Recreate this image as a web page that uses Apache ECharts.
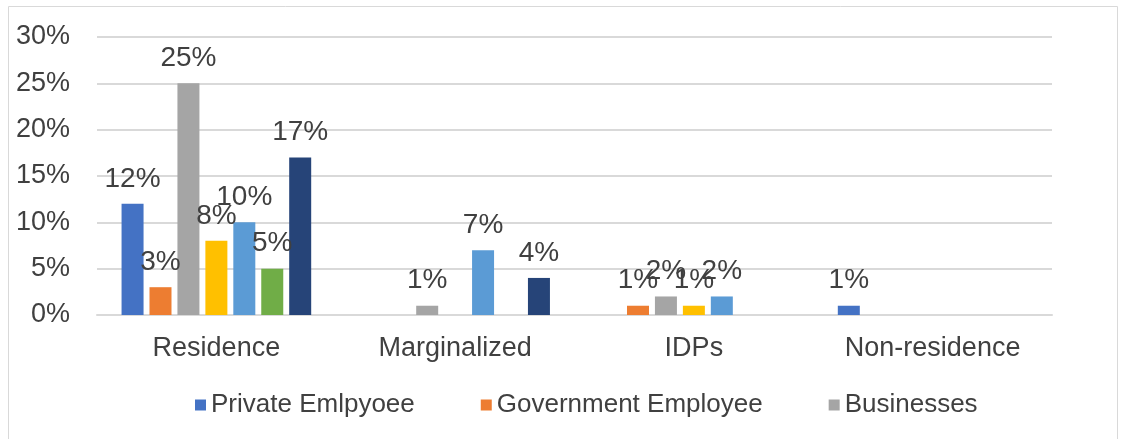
<!DOCTYPE html>
<html>
<head>
<meta charset="utf-8">
<script src="https://cdn.jsdelivr.net/npm/echarts@6/dist/echarts.min.js"></script>
<style>
  html, body { margin: 0; padding: 0; background: #fff; }
  #chart { width: 1125px; height: 439px; }
</style>
</head>
<body>
<div id="chart"></div>
<script>
// categories and series (percent values, null = no bar)
var categories = ['Residence', 'Marginalized', 'IDPs', 'Non-residence'];
var seriesNames = ['Private Emlpyoee', 'Government Employee', 'Businesses', 'Series 4', 'Series 5', 'Series 6', 'Series 7'];
var legendNames = ['Private Emlpyoee', 'Government Employee', 'Businesses'];
var privateEmp = [12, null, null, 1];
var governmentEmp = [3, null, 1, null];
var businesses = [25, 1, 2, null];
var series4 = [8, null, 1, null];
var series5 = [10, 7, 2, null];
var series6 = [5, null, null, null];
var series7 = [17, 4, null, null];
var yTicks = [0, 5, 10, 15, 20, 25, 30];

var colors = ['#4472C4', '#ED7D31', '#A5A5A5', '#FFC000', '#5B9BD5', '#70AD47', '#264478'];
var allData = [privateEmp, governmentEmp, businesses, series4, series5, series6, series7];

var textColor = '#404040';
var fontFam = '"Liberation Sans", Arial, sans-serif';

function buildSeries() {
    var out = [];
    for (var i = 0; i < allData.length; i++) {
        out.push({
            name: seriesNames[i],
            type: 'bar',
            data: allData[i],
            barWidth: 22,
            barGap: '27%',
            itemStyle: { color: colors[i] },
            label: {
                show: true,
                position: 'top',
                distance: 11,
                formatter: '{c}%',
                color: textColor,
                fontSize: 28,
                fontFamily: fontFam
            }
        });
    }
    return out;
}

var myChart = echarts.init(document.getElementById('chart'));
var option = {
    animation: false,
    color: colors,
    textStyle: { fontFamily: fontFam },
    graphic: [{
        type: 'rect',
        shape: { x: 8.5, y: 6.5, width: 1109, height: 440 },
        style: { fill: 'none', stroke: '#d9d9d9', lineWidth: 1 },
        silent: true
    }],
    grid: { left: 97, right: 73, top: 37, bottom: 124 },
    legend: {
        data: legendNames,
        top: 387,
        left: 190,
        itemWidth: 11,
        itemHeight: 11,
        itemGap: 66,
        icon: 'rect',
        textStyle: { color: textColor, fontSize: 26, fontFamily: fontFam }
    },
    xAxis: {
        type: 'category',
        data: categories,
        axisTick: { show: false },
        axisLine: { lineStyle: { color: '#d9d9d9', width: 2 } },
        axisLabel: { color: textColor, fontSize: 27, margin: 20, fontFamily: fontFam }
    },
    yAxis: {
        type: 'value',
        min: yTicks[0],
        max: yTicks[yTicks.length - 1],
        interval: 5,
        axisLine: { show: false },
        axisTick: { show: false },
        splitLine: { lineStyle: { color: '#d9d9d9', width: 2 } },
        axisLabel: { color: textColor, fontSize: 27, margin: 27, formatter: '{value}%', fontFamily: fontFam }
    },
    series: buildSeries()
};
myChart.setOption(option);
</script>
</body>
</html>
